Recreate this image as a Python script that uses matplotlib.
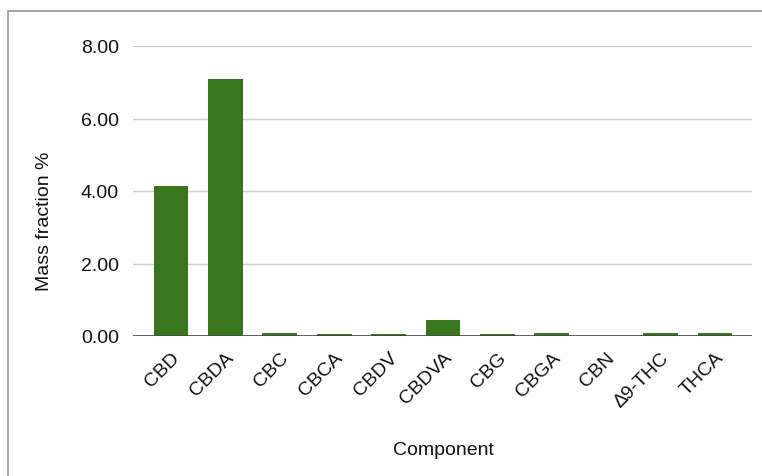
import matplotlib.pyplot as plt
from matplotlib.patches import Rectangle

components = ["CBD", "CBDA", "CBC", "CBCA", "CBDV", "CBDVA", "CBG", "CBGA", "CBN", "\u22069-THC", "THCA"]
mass_fraction = [4.14, 7.09, 0.09, 0.05, 0.05, 0.43, 0.05, 0.09, 0.0, 0.09, 0.09]
y_ticks = [0, 2, 4, 6, 8]

plt.rcParams['font.family'] = ['Liberation Sans', 'DejaVu Sans']

fig = plt.figure(figsize=(7.62, 4.77), dpi=100)
ax = fig.add_axes([133/762, 1 - 337/477, (752 - 133)/762, (337 - 47)/477])

x = range(len(components))
ax.bar(x, mass_fraction, width=0.64, color='#38761d', zorder=3)

ax.set_xlim(-0.7, 10.68)
ax.set_ylim(0, 8)
ax.set_yticks(y_ticks)
ax.set_yticklabels([f"{v:.2f}" for v in y_ticks], fontsize=14, color='#111111')
ax.set_xticks(list(x))
ax.set_xticklabels(components, rotation=45, ha='right', rotation_mode='anchor', fontsize=14, color='#111111')
ax.tick_params(axis='both', length=0)
ax.tick_params(axis='y', pad=10)
ax.tick_params(axis='x', pad=9)

ax.grid(axis='y', color='#cccccc', linewidth=1, zorder=0)
ax.axhline(0, color='#444444', linewidth=1.2, zorder=4)
for s in ax.spines.values():
    s.set_visible(False)

fig.text(443/762, 1 - 451/477, "Component", ha='center', va='center', fontsize=14, color='#111111')
fig.text(44.5/762, 1 - 221/477, "Mass fraction %", ha='center', va='center', rotation=90, fontsize=14, color='#111111')

fig.patches.append(Rectangle((7.5/762, -0.1), 1.2, 1 - 11.5/477 + 0.1, transform=fig.transFigure,
                             fill=False, edgecolor='#9e9e9e', linewidth=1.3))

fig.savefig("out.png", dpi=100)
